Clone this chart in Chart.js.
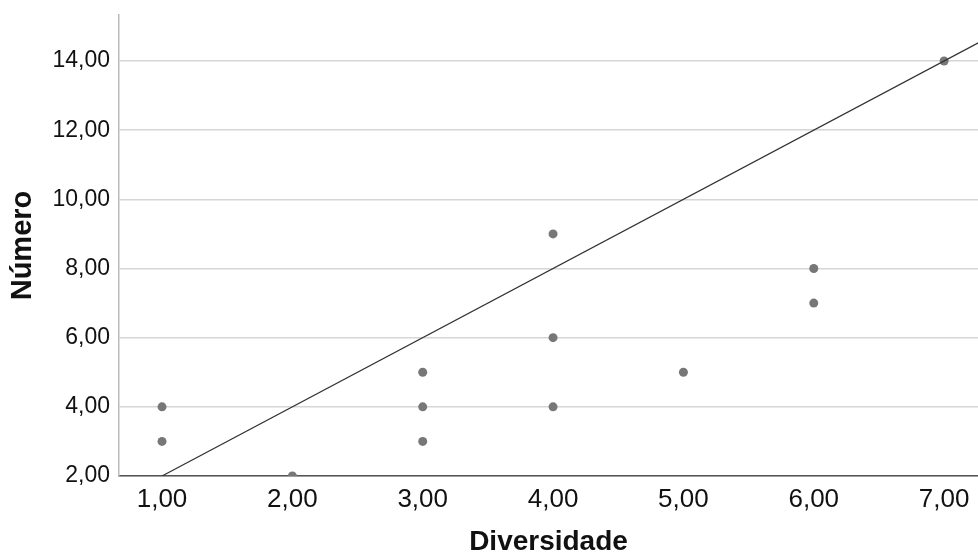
<!DOCTYPE html>
<html>
<head>
<meta charset="utf-8">
<script src="https://cdn.jsdelivr.net/npm/chart.js@4"></script>
<style>
  html, body { margin: 0; padding: 0; background: #fff; }
  #wrap { width: 978px; height: 559px; }
</style>
</head>
<body>
<div id="wrap"><canvas id="chart" width="978" height="559"></canvas></div>
<script>
// ----- data -----
var diversidade = [1, 1, 2, 3, 3, 3, 4, 4, 4, 5, 6, 6, 7];
var numero      = [4, 3, 2, 5, 4, 3, 9, 6, 4, 5, 8, 7, 14];
// reference line (y = 2x), endpoints
var lineX = [1, 7.5];
var lineY = [2, 15];
var xTicks = [1, 2, 3, 4, 5, 6, 7];
var yTicks = [2, 4, 6, 8, 10, 12, 14];

var pts = diversidade.map(function(x, i){ return {x: x, y: numero[i]}; });
var linePts = lineX.map(function(x, i){ return {x: x, y: lineY[i]}; });

function fmt(v){ return v.toFixed(2).replace('.', ','); }

Chart.defaults.font.family = '"Liberation Sans", Arial, sans-serif';
Chart.defaults.color = '#111';

new Chart(document.getElementById('chart').getContext('2d'), {
  type: 'scatter',
  data: {
    datasets: [
      {
        data: pts,
        backgroundColor: '#777777',
        borderWidth: 0,
        pointRadius: 4.5,
        clip: 0,
        order: 1
      },
      {
        type: 'line',
        data: linePts,
        borderColor: '#333333',
        borderWidth: 1.2,
        pointRadius: 0,
        fill: false,
        clip: 0,
        order: 0
      }
    ]
  },
  options: {
    responsive: false,
    animation: false,
    layout: { autoPadding: false, padding: { top: 15, right: 0, left: 0, bottom: 0 } },
    plugins: { legend: { display: false }, tooltip: { enabled: false } },
    scales: {
      x: {
        type: 'linear',
        min: 0.67, max: 7.26,
        afterBuildTicks: function(s){ s.ticks = xTicks.map(function(v){ return {value: v}; }); },
        afterFit: function(s){ s.height = 83; s.paddingRight = 0; s.paddingLeft = 0; },
        ticks: { callback: fmt, font: { size: 26 }, padding: 8, maxRotation: 0 },
        grid: { drawOnChartArea: false, drawTicks: false },
        border: { color: '#555', width: 1.5 },
        title: { display: true, text: 'Diversidade', font: { size: 28, weight: 'bold' }, padding: { top: 0, bottom: 0 } }
      },
      y: {
        min: 2, max: 15.33,
        afterBuildTicks: function(s){ s.ticks = yTicks.map(function(v){ return {value: v}; }); },
        afterFit: function(s){ s.width = 119; s.paddingTop = 0; s.paddingBottom = 0; },
        ticks: { callback: fmt, font: { size: 23 }, padding: 9 },
        grid: { color: '#d6d6d6', lineWidth: 1.5, drawTicks: false },
        border: { color: '#bbbbbb', width: 1.5 },
        title: { display: true, text: 'Número', font: { size: 29, weight: 'bold' }, padding: { top: 6, bottom: 0 } }
      }
    }
  }
});
</script>
</body>
</html>
